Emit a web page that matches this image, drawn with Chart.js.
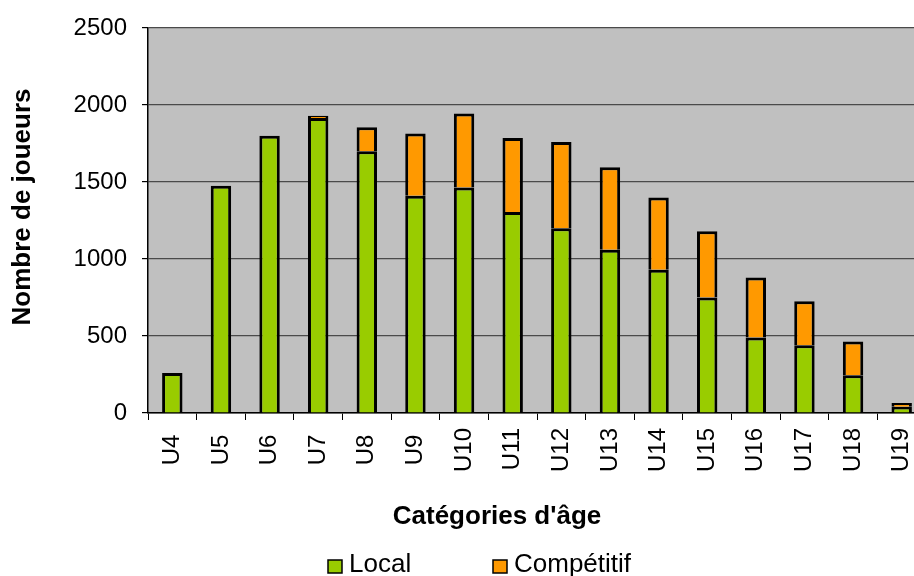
<!DOCTYPE html>
<html lang="fr">
<head>
<meta charset="utf-8">
<title>Nombre de joueurs par catégorie d'âge</title>
<script src="https://cdn.jsdelivr.net/npm/chart.js@4/dist/chart.umd.min.js"></script>
<style>
  html, body { margin: 0; padding: 0; background: #ffffff; overflow: hidden; }
  #wrap { width: 914px; height: 576px; overflow: hidden; position: relative; }
  canvas { display: block; }
</style>
</head>
<body>
<div id="wrap"><canvas id="chart" width="926" height="576"></canvas></div>
<script>
// Age categories and player counts per category
const categories = ['U4', 'U5', 'U6', 'U7', 'U8', 'U9', 'U10', 'U11', 'U12', 'U13', 'U14', 'U15', 'U16', 'U17', 'U18', 'U19'];
const localPlayers = [260, 1475, 1800, 1915, 1700, 1410, 1465, 1305, 1200, 1060, 930, 750, 490, 440, 245, 40];
const competitivePlayers = [0, 0, 0, 15, 155, 405, 480, 480, 560, 535, 470, 430, 390, 285, 220, 25];
const yTicks = { min: 0, max: 2500, step: 500 };

const seriesNames = ['Local', 'Compétitif'];
const xTitle = "Catégories d'âge";
const yTitle = 'Nombre de joueurs';

const FONT = "'Liberation Sans', Arial, Helvetica, sans-serif";

// Grey plot background behind the bars
const plotBackground = {
  id: 'plotBackground',
  beforeDraw(chart) {
    const { ctx, chartArea: a } = chart;
    ctx.save();
    ctx.fillStyle = '#C0C0C0';
    ctx.fillRect(a.left, a.top, a.right - a.left, a.bottom - a.top);
    ctx.restore();
  }
};

// Axis titles and the legend row underneath the chart
const chartTexts = {
  id: 'chartTexts',
  afterDraw(chart) {
    const { ctx } = chart;
    ctx.save();
    ctx.fillStyle = '#000';
    ctx.textBaseline = 'middle';
    ctx.textAlign = 'center';
    ctx.font = 'bold 26px ' + FONT;
    ctx.fillText(xTitle, 497, 517);

    ctx.save();
    ctx.translate(23, 207);
    ctx.rotate(-Math.PI / 2);
    ctx.fillText(yTitle, 0, 0);
    ctx.restore();

    const legendX = [328, 493];
    ctx.font = '26px ' + FONT;
    ctx.textAlign = 'left';
    chart.data.datasets.forEach((ds, i) => {
      const x = legendX[i];
      ctx.fillStyle = ds.backgroundColor;
      ctx.fillRect(x, 560, 14, 13);
      ctx.strokeStyle = '#000';
      ctx.lineWidth = 1.5;
      ctx.strokeRect(x, 560, 14, 13);
      ctx.fillStyle = '#000';
      ctx.fillText(ds.label, x + 21, 565);
    });
    ctx.restore();
  }
};

new Chart(document.getElementById('chart'), {
  type: 'bar',
  data: {
    labels: categories,
    datasets: [
      {
        label: seriesNames[0],
        data: localPlayers,
        backgroundColor: '#99CC00',
        borderColor: '#000000',
        borderWidth: 3
      },
      {
        label: seriesNames[1],
        data: competitivePlayers,
        backgroundColor: '#FF9900',
        borderColor: '#000000',
        borderWidth: 3
      }
    ]
  },
  options: {
    responsive: false,
    animation: false,
    devicePixelRatio: 1,
    layout: { padding: { top: 28, left: 0, right: 0, bottom: 0 } },
    datasets: {
      bar: { categoryPercentage: 1.0, barPercentage: 0.42 }
    },
    plugins: {
      legend: { display: false },
      title: { display: false },
      tooltip: { enabled: false }
    },
    scales: {
      x: {
        stacked: true,
        offset: true,
        afterFit(scale) {
          scale.height = 163;
          scale.paddingLeft = 0;
          scale.paddingRight = 0;
        },
        grid: {
          offset: true,
          drawOnChartArea: false,
          drawTicks: true,
          tickLength: 7,
          tickColor: '#000000',
          tickWidth: 1
        },
        border: { display: true, color: '#000000', width: 1.5 },
        ticks: {
          color: '#000000',
          font: { family: FONT, size: 24 },
          minRotation: 90,
          maxRotation: 90,
          autoSkip: false,
          padding: 8,
          // pad short labels so all rotated labels sit centred on one line
          callback(value) {
            const s = this.getLabelForValue(value);
            return s.length < 3 ? s + ' ' : s;
          }
        }
      },
      y: {
        stacked: true,
        min: yTicks.min,
        max: yTicks.max,
        afterFit(scale) {
          scale.width = 148;
          scale.paddingTop = 0;
          scale.paddingBottom = 0;
        },
        grid: {
          color: '#4a4a4a',
          lineWidth: 1.2,
          drawTicks: true,
          tickLength: 6,
          tickColor: '#000000'
        },
        border: { display: true, color: '#000000', width: 1.5 },
        ticks: {
          stepSize: yTicks.step,
          color: '#000000',
          font: { family: FONT, size: 24 },
          padding: 15,
          callback(value) { return String(value); }
        }
      }
    }
  },
  plugins: [plotBackground, chartTexts]
});
</script>
</body>
</html>
